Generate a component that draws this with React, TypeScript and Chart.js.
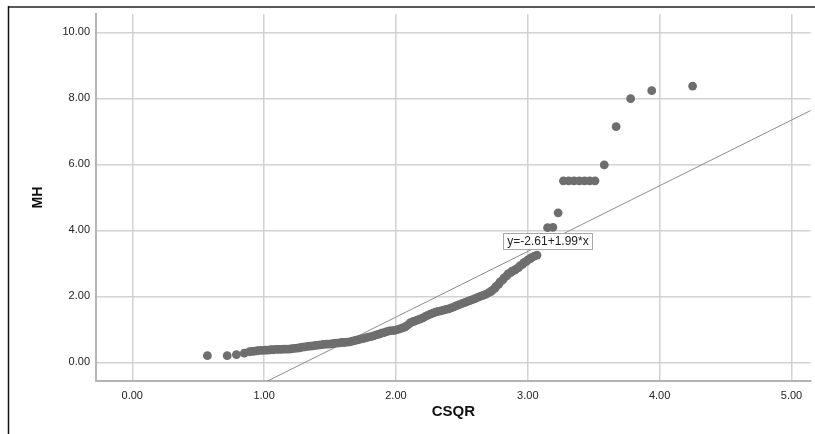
import React, { useEffect, useRef } from "react";
import { Chart, registerables } from "chart.js";

Chart.register(...registerables);

const csqr = [
  0.57, 0.72, 0.79, 0.85,
  0.89, 0.91, 0.93, 0.95, 0.97, 0.99, 1.01, 1.03, 1.05, 1.07, 1.09, 1.11, 1.13, 1.15,
  1.17, 1.19, 1.21, 1.23, 1.25, 1.27, 1.29, 1.31, 1.33, 1.35, 1.37, 1.39, 1.41, 1.43,
  1.45, 1.47, 1.49, 1.51, 1.53, 1.55, 1.57, 1.59, 1.61, 1.63, 1.65, 1.67, 1.69, 1.71,
  1.73, 1.75, 1.77, 1.79, 1.81, 1.83, 1.85, 1.87, 1.89, 1.91, 1.93, 1.95, 1.97, 1.99,
  2.01, 2.03, 2.05, 2.07, 2.08, 2.1, 2.11, 2.13, 2.14, 2.16, 2.18, 2.2, 2.22, 2.24,
  2.26, 2.28, 2.3, 2.32, 2.34, 2.36, 2.38, 2.4, 2.42, 2.44, 2.46, 2.48, 2.5, 2.52,
  2.54, 2.56, 2.58, 2.6, 2.62, 2.64, 2.66, 2.68, 2.7, 2.72, 2.73, 2.75, 2.76, 2.78,
  2.79, 2.81, 2.82, 2.84, 2.85, 2.87, 2.88, 2.9, 2.91, 2.93, 2.94, 2.96, 2.97, 2.99,
  3.0, 3.02, 3.03, 3.05, 3.07,
  3.15, 3.19, 3.23, 3.27, 3.31, 3.35, 3.39, 3.43, 3.47, 3.51, 3.58, 3.67, 3.78, 3.94, 4.25,
];
const mh = [
  0.2, 0.2, 0.23, 0.28,
  0.32, 0.33, 0.34, 0.35, 0.36, 0.36, 0.37, 0.37, 0.38, 0.38, 0.39, 0.39, 0.39, 0.4,
  0.4, 0.4, 0.41, 0.42, 0.43, 0.44, 0.46, 0.47, 0.48, 0.49, 0.5, 0.51, 0.52, 0.53,
  0.54, 0.55, 0.55, 0.56, 0.57, 0.58, 0.59, 0.6, 0.6, 0.61, 0.62, 0.64, 0.66, 0.68,
  0.7, 0.72, 0.74, 0.76, 0.78, 0.8, 0.83, 0.85, 0.88, 0.9, 0.93, 0.95, 0.96, 0.97,
  0.99, 1.01, 1.04, 1.07, 1.1, 1.16, 1.2, 1.23, 1.25, 1.28, 1.31, 1.34, 1.38, 1.42,
  1.46, 1.49, 1.52, 1.54, 1.56, 1.58, 1.6, 1.62, 1.65, 1.68, 1.72, 1.75, 1.78, 1.81,
  1.84, 1.87, 1.9, 1.93, 1.97, 2.0, 2.03, 2.06, 2.1, 2.14, 2.18, 2.24, 2.3, 2.37,
  2.44, 2.5, 2.56, 2.62, 2.68, 2.72, 2.76, 2.79, 2.82, 2.87, 2.92, 2.97, 3.02, 3.06,
  3.1, 3.14, 3.18, 3.22, 3.25,
  4.08, 4.09, 4.53, 5.5, 5.5, 5.5, 5.5, 5.5, 5.5, 5.5, 5.98, 7.14, 7.99, 8.23, 8.37,
];

const xTicks = [0, 1, 2, 3, 4, 5];
const yTicks = [0, 2, 4, 6, 8, 10];

const fitIntercept = -2.61;
const fitSlope = 1.99;
const fitX = [0.9, 5.3];
const fitLabel = "y=-2.61+1.99*x";
const fitLabelAt = { x: 3.15, y: 3.68 };

const xTitle = "CSQR";
const yTitle = "MH";

const FONT = "'Liberation Sans', Arial, sans-serif";

const decorPlugin = {
  id: "decor",
  afterDatasetsDraw(chart: any) {
    const ctx = chart.ctx;
    const xs = chart.scales.x;
    const ys = chart.scales.y;
    const cx = xs.getPixelForValue(fitLabelAt.x);
    const cy = ys.getPixelForValue(fitLabelAt.y);
    ctx.save();
    ctx.font = `12px ${FONT}`;
    const w = Math.round(ctx.measureText(fitLabel).width + 8);
    const h = 16;
    const x0 = Math.round(cx - w / 2) + 0.5;
    const y0 = Math.round(cy - h / 2) + 0.5;
    ctx.fillStyle = "#ffffff";
    ctx.fillRect(x0, y0, w, h);
    ctx.strokeStyle = "#a8a8a8";
    ctx.lineWidth = 1;
    ctx.strokeRect(x0, y0, w, h);
    ctx.fillStyle = "#222222";
    ctx.textAlign = "center";
    ctx.textBaseline = "middle";
    ctx.fillText(fitLabel, x0 + w / 2, y0 + h / 2 + 0.5);
    ctx.restore();
  },
  afterDraw(chart: any) {
    const ctx = chart.ctx;
    ctx.save();
    ctx.strokeStyle = "#5a5a5a";
    ctx.lineWidth = 2;
    ctx.beginPath();
    ctx.moveTo(8, 7);
    ctx.lineTo(chart.width, 7);
    ctx.stroke();
    ctx.strokeStyle = "#111111";
    ctx.lineWidth = 1.5;
    ctx.beginPath();
    ctx.moveTo(8.5, 6);
    ctx.lineTo(8.5, chart.height);
    ctx.stroke();
    ctx.restore();
  },
};

export default function App() {
  const ref = useRef<HTMLCanvasElement | null>(null);

  useEffect(() => {
    if (!ref.current) return;
    const chart = new Chart(ref.current, {
      type: "scatter",
      data: {
        datasets: [
          {
            type: "scatter",
            label: "MH",
            data: csqr.map((x, i) => ({ x, y: mh[i] })),
            pointRadius: 4.4,
            pointHoverRadius: 4.4,
            backgroundColor: "#6e6e6e",
            borderWidth: 0,
            order: 1,
          } as any,
          {
            type: "line",
            label: "fit",
            data: fitX.map((x) => ({ x, y: fitIntercept + fitSlope * x })),
            borderColor: "#8c8c8c",
            borderWidth: 1,
            pointRadius: 0,
            fill: false,
            order: 2,
          } as any,
        ],
      },
      options: {
        animation: false,
        responsive: false,
        maintainAspectRatio: false,
        layout: { padding: { top: 14, right: 0, left: 0, bottom: 0 } },
        plugins: { legend: { display: false }, tooltip: { enabled: false } },
        scales: {
          x: {
            type: "linear",
            min: -0.275,
            max: 5.145,
            afterFit: (s: any) => {
              s.height = 53;
            },
            afterBuildTicks: (s: any) => {
              s.ticks = xTicks.map((v) => ({ value: v }));
            },
            grid: { color: "#d2d2d2", lineWidth: 1.5, drawTicks: false },
            border: { color: "#b4b4b4", width: 2 },
            ticks: {
              padding: 8,
              color: "#222",
              font: { family: FONT, size: 11 },
              callback: (v: any) => Number(v).toFixed(2),
            },
            title: {
              display: true,
              text: xTitle,
              color: "#111",
              font: { family: FONT, size: 15, weight: "bold" },
              padding: { top: 13, bottom: 13 },
            },
          },
          y: {
            type: "linear",
            min: -0.567,
            max: 10.555,
            afterFit: (s: any) => {
              s.width = 96;
            },
            afterBuildTicks: (s: any) => {
              s.ticks = yTicks.map((v) => ({ value: v }));
            },
            grid: { color: "#d2d2d2", lineWidth: 1.5, drawTicks: false },
            border: { color: "#b4b4b4", width: 2 },
            ticks: {
              padding: 6,
              color: "#222",
              font: { family: FONT, size: 11 },
              callback: (v: any) => Number(v).toFixed(2),
            },
            title: {
              display: true,
              text: yTitle,
              color: "#111",
              font: { family: FONT, size: 14, weight: "bold" },
              padding: { top: 30, bottom: 0 },
            },
          },
        },
      },
      plugins: [decorPlugin],
    });
    return () => chart.destroy();
  }, []);

  return (
    <div style={{ position: "fixed", left: 0, top: 0, width: 815, height: 434, background: "#fff" }}>
      <canvas ref={ref} width={815} height={434} style={{ width: 815, height: 434, display: "block" }} />
    </div>
  );
}
